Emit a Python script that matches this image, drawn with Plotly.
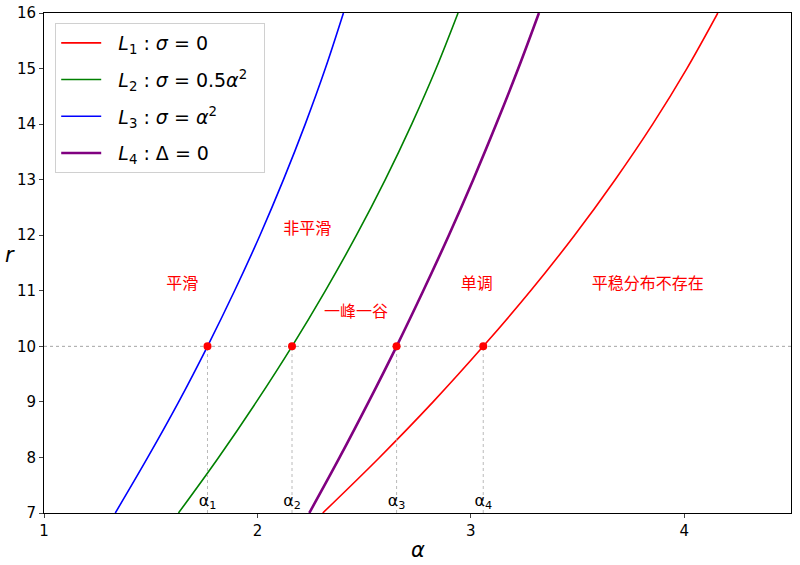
import plotly.graph_objects as go

# curves: alpha at r = 7, 8, ..., 16
r_pts = [7, 8, 9, 10, 11, 12, 13, 14, 15, 16]
alpha_L1 = [2.306, 2.572, 2.823, 3.058, 3.280, 3.486, 3.676, 3.852, 4.012, 4.157]
alpha_L2 = [1.630, 1.818, 1.995, 2.162, 2.318, 2.464, 2.599, 2.723, 2.837, 2.940]
alpha_L3 = [1.334, 1.486, 1.631, 1.766, 1.893, 2.012, 2.122, 2.224, 2.318, 2.403]
alpha_L4 = [2.243, 2.385, 2.521, 2.652, 2.777, 2.897, 3.011, 3.119, 3.222, 3.319]

# intersections with r = 10
r_level = 10
alpha_marks = [1.766, 2.162, 2.652, 3.058]
alpha_names = ['α<sub>1</sub>', 'α<sub>2</sub>', 'α<sub>3</sub>', 'α<sub>4</sub>']

# region labels
region_text = ['平滑', '非平滑', '一峰一谷', '单调', '平稳分布不存在']
region_x = [1.648, 2.233, 2.462, 3.028, 3.829]
region_y = [11.10, 12.09, 10.60, 11.10, 11.10]

fig = go.Figure()

pad = '\u00a0\u00a0'
curves = [
    (alpha_L1, pad + '<i>L</i><sub>1</sub> : <i>σ</i> = 0', '#ff0000', 1.6),
    (alpha_L2, pad + '<i>L</i><sub>2</sub> : <i>σ</i> = 0.5<i>α</i><sup>2</sup>' + pad, '#008000', 1.6),
    (alpha_L3, pad + '<i>L</i><sub>3</sub> : <i>σ</i> = <i>α</i><sup>2</sup>', '#0000ff', 1.6),
    (alpha_L4, pad + '<i>L</i><sub>4</sub> : Δ = 0', '#800080', 2.6),
]
for i, (xs, name, col, w) in enumerate(curves):
    fig.add_trace(go.Scatter(x=xs, y=r_pts, mode='lines', name=name, legendgroup=str(i),
                             line=dict(color=col, width=w, shape='spline', smoothing=1)))

# horizontal guide
fig.add_trace(go.Scatter(x=[1, 4.5], y=[r_level, r_level], mode='lines', showlegend=False,
                         line=dict(color='#8c8c8c', width=0.8, dash='dot')))
# vertical guides
vx, vy = [], []
for a in alpha_marks:
    vx += [a, a, None]
    vy += [7, r_level, None]
fig.add_trace(go.Scatter(x=vx, y=vy, mode='lines', showlegend=False,
                         line=dict(color='#a8a8a8', width=0.8, dash='dot')))

fig.add_trace(go.Scatter(x=alpha_marks, y=[r_level] * 4, mode='markers', showlegend=False,
                         marker=dict(color='#ff0000', size=8)))

fig.add_trace(go.Scatter(x=alpha_marks, y=[7.2] * 4, mode='text', showlegend=False,
                         text=alpha_names, textfont=dict(size=16, color='black',
                                                         family='DejaVu Sans')))

fig.add_trace(go.Scatter(x=region_x, y=region_y, mode='text', showlegend=False,
                         text=region_text,
                         textfont=dict(size=16, color='#ff0000', family='Noto Sans CJK SC')))

fig.update_layout(
    width=800, height=565,
    margin=dict(l=44, r=9, t=13, b=52),
    plot_bgcolor='white', paper_bgcolor='white',
    font=dict(family='DejaVu Sans', color='black'),
    legend=dict(x=0.015, y=0.98, xanchor='left', yanchor='top',
                bgcolor='rgba(255,255,255,0.9)', bordercolor='#d0d0d0', borderwidth=1,
                font=dict(size=19), itemwidth=40, tracegroupgap=9),
    annotations=[
        dict(text='<i>α</i>', x=0.5, y=-0.073, xref='paper', yref='paper',
             xanchor='center', yanchor='middle', showarrow=False, font=dict(size=21)),
        dict(text='<i>r</i>', x=-0.0455, y=0.516, xref='paper', yref='paper',
             xanchor='center', yanchor='middle', showarrow=False, font=dict(size=21)),
    ],
)
fig.update_xaxes(range=[1, 4.5], tickvals=[1, 2, 3, 4], showgrid=False, zeroline=False,
                 showline=True, linecolor='black', linewidth=1, mirror=True, automargin=False,
                 ticks='outside', ticklen=4, tickfont=dict(size=15), ticklabeloverflow='allow')
fig.update_yaxes(range=[7, 16], dtick=1, showgrid=False, zeroline=False,
                 showline=True, linecolor='black', linewidth=1, mirror=True, automargin=False,
                 ticks='outside', ticklen=4, tickfont=dict(size=15), ticklabeloverflow='allow')

# drop the page's default body margin so the figure sits at the window's corner
fig.write_html("out.html", config={'displayModeBar': False},
               post_script="document.body.style.margin='0';")
